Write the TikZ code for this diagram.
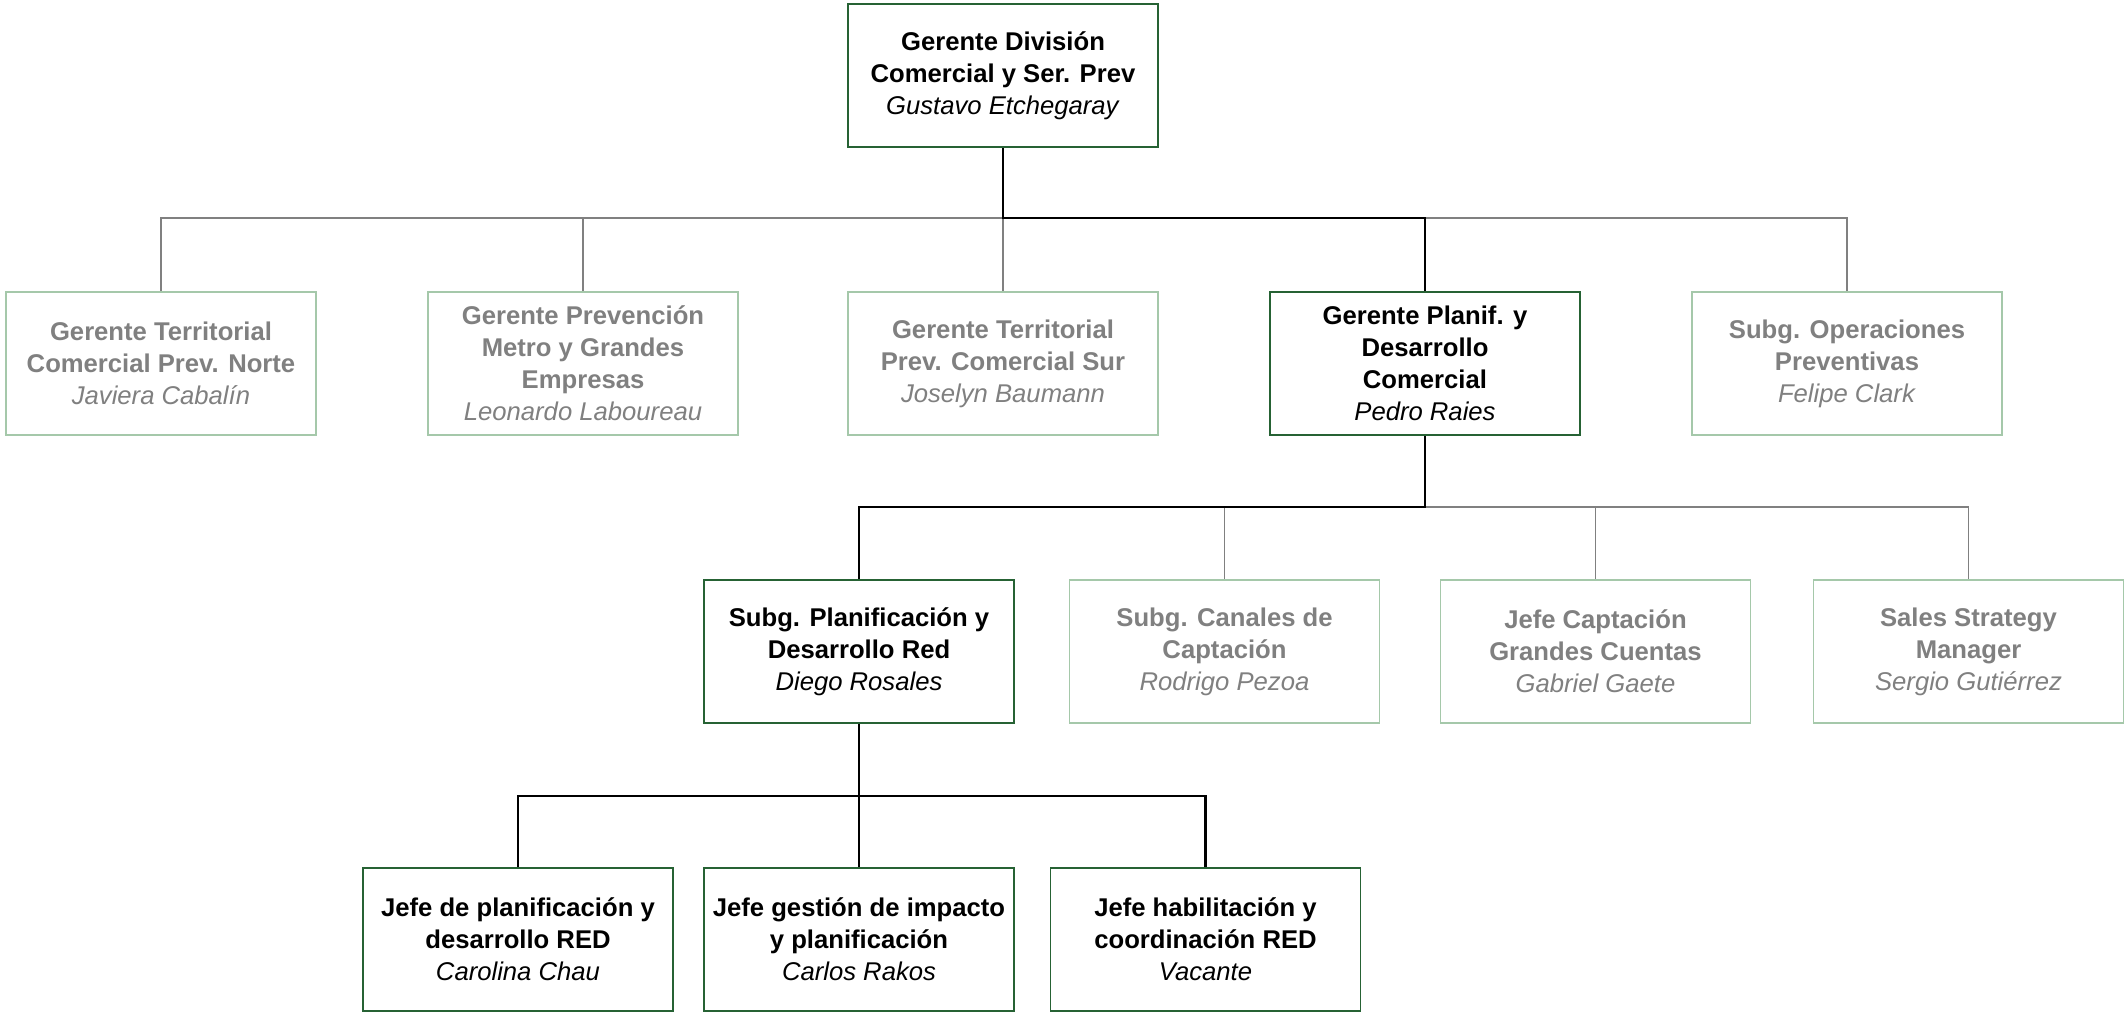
\documentclass[tikz,border=0pt]{standalone}
\usepackage{fontspec}
\setmainfont{Liberation Sans}
\usepackage{tikz}
\usetikzlibrary{positioning}
\definecolor{activo_verde}{RGB}{38, 98, 52}
\definecolor{inactivo_verde}{RGB}{165, 200, 170}
\definecolor{inactivo_gris}{RGB}{128, 128, 128}

\begin{document}
\begin{tikzpicture}[
    every node/.style={font=\fontsize{7.3}{9.1}\selectfont},
    cargo/.style={draw=activo_verde, line width=0.5pt, fill=white,
                minimum width=3.1cm, minimum height=1.43cm,
                align=center, inner sep=2pt},
    cargogris/.style={draw=inactivo_verde, line width=0.5pt, fill=white,
                text=inactivo_gris,
                minimum width=3.1cm, minimum height=1.43cm,
                align=center, inner sep=2pt},
    lnk/.style={draw=inactivo_gris, line width=0.45pt},
    lnkact/.style={draw=black, line width=0.75pt},
]
\useasboundingbox (0,0) rectangle (21.26,-10.12);

\coordinate (bus1) at (0,-2.18);
\coordinate (bus2) at (0,-5.07);
\coordinate (bus3) at (0,-7.96);

\node[cargo]     (top)     at (10.03,-0.755) {\textbf{Gerente División}\\\textbf{Comercial y Ser. Prev}\\\textit{Gustavo Etchegaray}};

\node[cargogris] (norte)   at (1.61,-3.635)  {\textbf{Gerente Territorial}\\\textbf{Comercial Prev. Norte}\\\textit{Javiera Cabalín}};
\node[cargogris] (metro)   at (5.83,-3.635)  {\textbf{Gerente Prevención}\\\textbf{Metro y Grandes}\\\textbf{Empresas}\\\textit{Leonardo Laboureau}};
\node[cargogris] (sur)     at (10.03,-3.635) {\textbf{Gerente Territorial}\\\textbf{Prev. Comercial Sur}\\\textit{Joselyn Baumann}};
\node[cargo]     (planif)  at (14.25,-3.635) {\textbf{Gerente Planif. y}\\\textbf{Desarrollo}\\\textbf{Comercial}\\\textit{Pedro Raies}};
\node[cargogris] (operac)  at (18.47,-3.635) {\textbf{Subg. Operaciones}\\\textbf{Preventivas}\\\textit{Felipe Clark}};

\node[cargo]     (red)     at (8.59,-6.515)  {\textbf{Subg. Planificación y}\\\textbf{Desarrollo Red}\\\textit{Diego Rosales}};
\node[cargogris] (canales) at (12.245,-6.515) {\textbf{Subg. Canales de}\\\textbf{Captación}\\\textit{Rodrigo Pezoa}};
\node[cargogris] (captac)  at (15.955,-6.515) {\textbf{Jefe Captación}\\\textbf{Grandes Cuentas}\\\textit{Gabriel Gaete}};
\node[cargogris] (sales)   at (19.685,-6.515) {\textbf{Sales Strategy}\\\textbf{Manager}\\\textit{Sergio Gutiérrez}};

\node[cargo]     (jplan)   at (5.18,-9.395)  {\textbf{Jefe de planificación y}\\\textbf{desarrollo RED}\\\textit{Carolina Chau}};
\node[cargo]     (jimpac)  at (8.59,-9.395)  {\textbf{Jefe gestión de impacto}\\\textbf{y planificación}\\\textit{Carlos Rakos}};
\node[cargo]     (jhabil)  at (12.055,-9.395) {\textbf{Jefe habilitación y}\\\textbf{coordinación RED}\\\textit{Vacante}};

\draw[lnk] (top.south) -- (top.south |- bus1) -| (norte.north);
\draw[lnk] (top.south) -- (top.south |- bus1) -| (metro.north);
\draw[lnk] (top.south) -- (top.south |- bus1) -| (sur.north);
\draw[lnk] (top.south) -- (top.south |- bus1) -| (operac.north);
\draw[lnk] (planif.south) -- (planif.south |- bus2) -| (canales.north);
\draw[lnk] (planif.south) -- (planif.south |- bus2) -| (captac.north);
\draw[lnk] (planif.south) -- (planif.south |- bus2) -| (sales.north);

\draw[lnkact] (top.south) -- (top.south |- bus1) -| (planif.north);
\draw[lnkact] (planif.south) -- (planif.south |- bus2) -| (red.north);
\draw[lnkact] (red.south) -- (red.south |- bus3) -| (jplan.north);
\draw[lnkact] (red.south) -- (red.south |- bus3) -| (jimpac.north);
\draw[lnkact] (red.south) -- (red.south |- bus3) -| (jhabil.north);
\end{tikzpicture}
\end{document}
